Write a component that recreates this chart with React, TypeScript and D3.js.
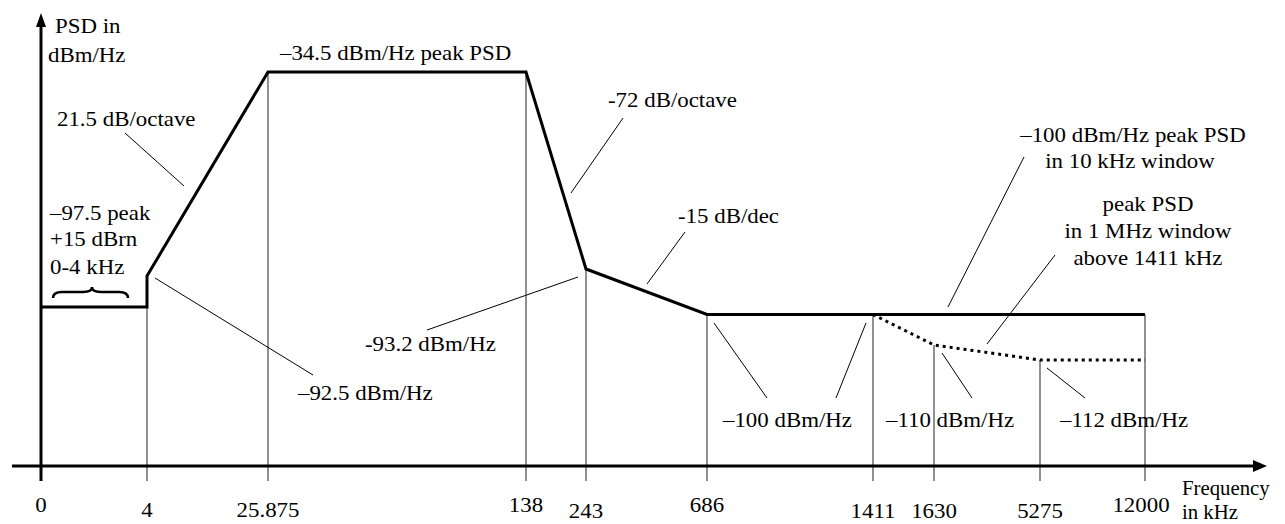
import * as d3 from "d3";

// frequency break points (kHz) and tick labels
const freqTicks = [0, 4, 25.875, 138, 243, 686, 1411, 1630, 5275, 12000];
const tickLabels = ["0", "4", "25.875", "138", "243", "686", "1411", "1630", "5275", "12000"];

// PSD mask (kHz, dBm/Hz)
const maskFreq = [0, 4, 4, 25.875, 138, 243, 686, 12000];
const maskPsd = [-97.5, -97.5, -92.5, -34.5, -34.5, -93.2, -100, -100];

// peak PSD in 1 MHz window above 1411 kHz
const windowFreq = [1411, 1630, 5275, 12000];
const windowPsd = [-100, -110, -112, -112];

// levels drawn at each tick's vertical line
const tickPsd = [null, -97.5, -34.5, -34.5, -93.2, -100, -100, -110, -112, -100];

const W = 1285;
const H = 524;
const SX = 1.04;
const FONT = '"Liberation Serif", Tinos, "Times New Roman", "DejaVu Serif", serif';

function Label({
  x,
  y,
  anchor = "start",
  size = 22,
  children,
}: {
  x: number;
  y: number;
  anchor?: string;
  size?: number;
  children: any;
}) {
  return (
    <text
      transform={`translate(${x},${y}) scale(${SX},1)`}
      textAnchor={anchor}
      style={{ fontFamily: FONT, fontSize: `${size}px` }}
      fill="#000"
    >
      {children}
    </text>
  );
}

export default function App() {
  // the drawing is not to scale, so both axes are piecewise
  const x = d3
    .scaleLinear()
    .domain(freqTicks)
    .range([41, 147, 268, 526, 586, 707, 873, 934, 1040, 1145]);
  const y = d3
    .scaleLinear()
    .domain([-112, -110, -100, -97.5, -93.2, -92.5, -34.5])
    .range([360, 345, 314.5, 307, 269, 276, 72]);

  const axisY = 466;
  const tickEnd = 481;
  const axisX = x(0);

  const mask = maskFreq.map((f, i) => [x(f), y(maskPsd[i])] as [number, number]);
  const windowPts = windowFreq.map((f, i) => [x(f), y(windowPsd[i])] as [number, number]);
  const line = d3.line();

  const labelBase = [512, 517, 517, 512, 518, 512, 518, 518, 518, 512];

  const leaders: [number, number, number, number][] = [
    [125, 133, 184, 186],
    [155, 278, 313, 375],
    [427, 330, 578, 277],
    [623, 118, 571, 193],
    [685, 232, 647, 284],
    [714, 323, 767, 398],
    [866, 323, 836, 398],
    [942, 353, 972, 398],
    [1047, 368, 1085, 398],
    [1024, 157, 948, 307],
    [1055, 255, 987, 344],
  ];

  const brace = "M53,298 Q53,292 62,292 L83,292 Q92,292 92,287 Q92,292 101,292 L119,292 Q128,292 128,298";

  return (
    <svg
      width={W}
      height={H}
      style={{ position: "absolute", left: 0, top: 0, background: "#fff" }}
    >
      {/* vertical drop lines */}
      {freqTicks.map((f, i) =>
        i === 0 ? null : (
          <line
            key={f}
            x1={x(f)}
            x2={x(f)}
            y1={y(tickPsd[i] as number)}
            y2={tickEnd}
            stroke="#555"
            strokeWidth={1.3}
          />
        )
      )}

      {/* axes */}
      <line x1={12} x2={1256} y1={axisY} y2={axisY} stroke="#000" strokeWidth={3} />
      <path d={`M1267,${axisY} L1253,${axisY - 6} L1253,${axisY + 6} Z`} fill="#000" />
      <line x1={axisX} x2={axisX} y1={24} y2={tickEnd} stroke="#000" strokeWidth={3} />
      <path d={`M${axisX},13 L${axisX - 5},27 L${axisX + 5},27 Z`} fill="#000" />

      {/* mask */}
      <path d={line(mask) as string} fill="none" stroke="#000" strokeWidth={3} strokeLinejoin="miter" />
      <path
        d={line(windowPts) as string}
        fill="none"
        stroke="#000"
        strokeWidth={3}
        strokeDasharray="3,4"
      />

      {/* brace */}
      <path d={brace} fill="none" stroke="#000" strokeWidth={2.5} />

      {/* leaders */}
      {leaders.map((l, i) => (
        <line key={i} x1={l[0]} y1={l[1]} x2={l[2]} y2={l[3]} stroke="#000" strokeWidth={1} />
      ))}

      {/* tick labels */}
      {freqTicks.map((f, i) => (
        <Label key={f} x={x(f) - (i === 9 ? 4 : 0)} y={labelBase[i]} anchor="middle">
          {tickLabels[i]}
        </Label>
      ))}

      <Label x={55} y={33}>PSD in</Label>
      <Label x={48} y={62}>dBm/Hz</Label>
      <Label x={1182} y={495} size={20}>Frequency</Label>
      <Label x={1182} y={519} size={20}>in kHz</Label>

      <Label x={280} y={60}>–34.5 dBm/Hz peak PSD</Label>
      <Label x={57} y={126}>21.5 dB/octave</Label>
      <Label x={50} y={220}>–97.5 peak</Label>
      <Label x={50} y={246}>+15 dBrn</Label>
      <Label x={50} y={274}>0-4 kHz</Label>
      <Label x={608} y={107}>-72 dB/octave</Label>
      <Label x={678} y={223}>-15 dB/dec</Label>
      <Label x={365} y={351}>-93.2 dBm/Hz</Label>
      <Label x={298} y={400}>–92.5 dBm/Hz</Label>
      <Label x={723} y={427}>–100 dBm/Hz</Label>
      <Label x={886} y={427}>–110 dBm/Hz</Label>
      <Label x={1060} y={427}>–112 dBm/Hz</Label>

      <Label x={1133} y={142} anchor="middle">–100 dBm/Hz peak PSD</Label>
      <Label x={1130} y={168} anchor="middle">in 10 kHz window</Label>
      <Label x={1148} y={211} anchor="middle">peak PSD</Label>
      <Label x={1148} y={238} anchor="middle">in 1 MHz window</Label>
      <Label x={1148} y={265} anchor="middle">above 1411 kHz</Label>
    </svg>
  );
}
